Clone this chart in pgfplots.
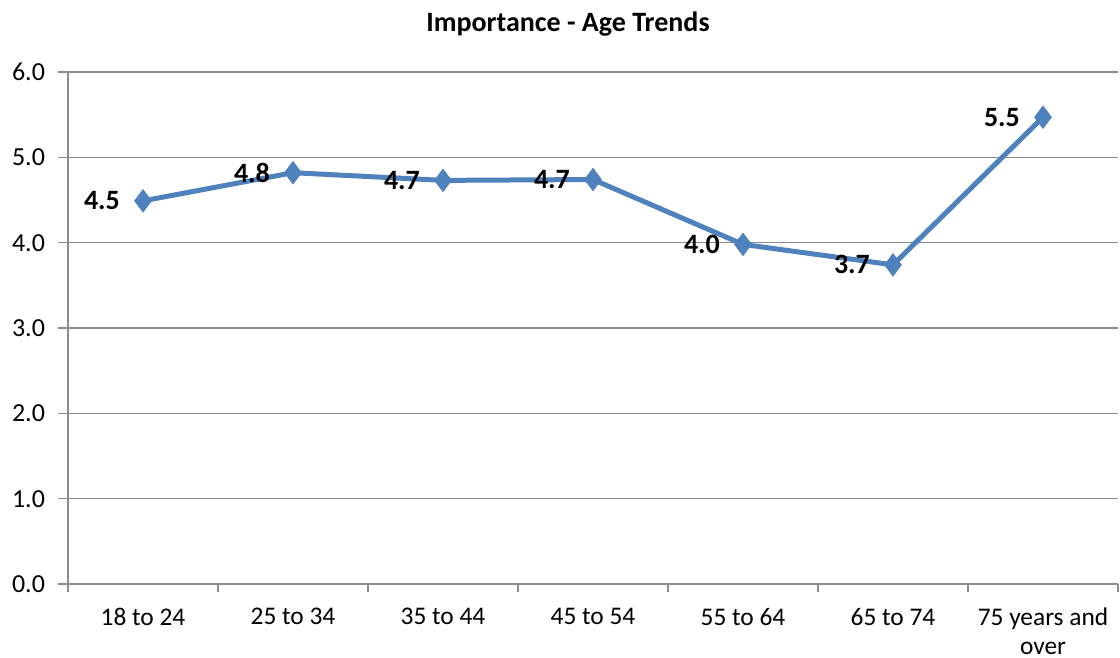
\documentclass[border=0pt]{standalone}
\usepackage{pgfplots}
\pgfplotsset{compat=1.18}
\usepackage{fontspec}
\setmainfont{Carlito}
\definecolor{lineblue}{RGB}{79,129,189}
\definecolor{gridgray}{RGB}{140,140,140}
\begin{document}
\begin{tikzpicture}
\useasboundingbox (-34bp,-37bp) rectangle (526bp,292bp);
\begin{axis}[
  at={(0,0)}, anchor=south west,
  scale only axis,
  width=525bp, height=256bp,
  xmin=-0.5, xmax=6.5,
  ymin=0, ymax=6,
  axis x line*=bottom,
  axis y line*=left,
  axis line style={gridgray, line width=0.8pt},
  xtick={0,...,6},
  xticklabels={18 to 24,25 to 34,35 to 44,45 to 54,55 to 64,65 to 74,{75 years and\\over}},
  xticklabel style={align=center, font=\fontsize{12.7bp}{14.5bp}\selectfont, yshift=-3.5bp},
  major x tick style={draw=none},
  minor xtick={-0.5,0.5,...,6.5},
  minor tick length=4bp,
  minor x tick style={gridgray, line width=0.8pt},
  ytick={0,1,...,6},
  yticklabel style={font=\fontsize{13bp}{15bp}\selectfont, xshift=-3bp},
  y tick style={gridgray, line width=0.8pt},
  major tick length=5bp,
  tick align=outside,
  ymajorgrids=true,
  grid style={gridgray, line width=0.8pt},
  /pgf/number format/assume math mode=true,
  yticklabel={\pgfmathprintnumber[fixed,fixed zerofill,precision=1]{\tick}},
  clip=false,
  nodes near coords={\pgfmathprintnumber[fixed,fixed zerofill,precision=1]{\pgfplotspointmeta}},
  nodes near coords style={anchor=east, xshift=-8bp, font=\bfseries\fontsize{14bp}{16bp}\selectfont, text=black},
]
\addplot[color=lineblue, line width=2.5bp, mark=diamond*, mark size=5.5bp, mark options={fill=lineblue, draw=lineblue, line width=0.5pt}]
  coordinates {(0,4.49) (1,4.82) (2,4.73) (3,4.74) (4,3.98) (5,3.74) (6,5.47)};
\end{axis}
\node[font=\bfseries\fontsize{14bp}{17bp}\selectfont] at (250bp,280bp) {Importance - Age Trends};
\end{tikzpicture}
\end{document}
